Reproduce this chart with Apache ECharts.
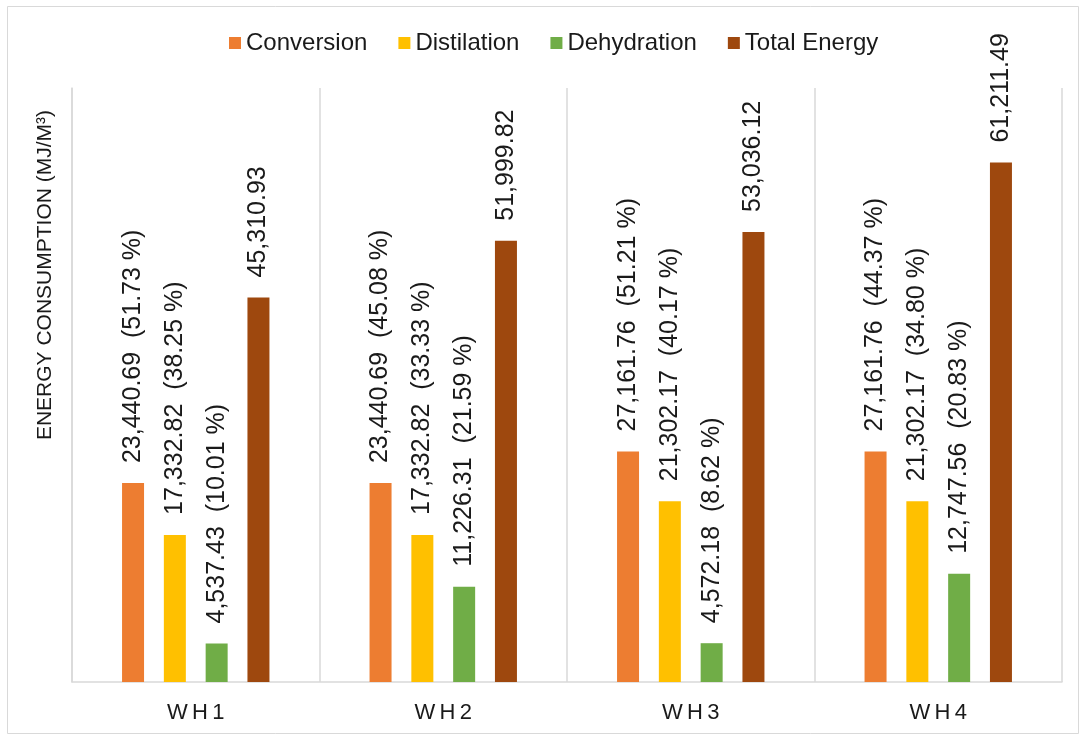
<!DOCTYPE html>
<html>
<head>
<meta charset="utf-8">
<title>Energy consumption</title>
<script src="https://cdn.jsdelivr.net/npm/echarts@6/dist/echarts.min.js"></script>
<style>
  html, body { margin: 0; padding: 0; background: #fff; }
  #chart { width: 1084px; height: 738px; }
</style>
</head>
<body>
<div id="chart"></div>
<script>
// Energy use per process step for each case (MJ/m3)
const categories = ['WH1', 'WH2', 'WH3', 'WH4'];
const conversion = [23440.69, 23440.69, 27161.76, 27161.76];
const distilation = [17332.82, 17332.82, 21302.17, 21302.17];
const dehydration = [4537.43, 11226.31, 4572.18, 12747.56];
const totalEnergy = [45310.93, 51999.82, 53036.12, 61211.49];

// Share of each step, as printed next to the value
const conversionPct = ['51.73', '45.08', '51.21', '44.37'];
const distilationPct = ['38.25', '33.33', '40.17', '34.80'];
const dehydrationPct = ['10.01', '21.59', '8.62', '20.83'];

const FONT = '"Liberation Sans", Arial, sans-serif';
const TEXT = '#1a1a1a';
const GRIDLINE = '#d9d9d9';

const fmt = v => v.toLocaleString('en-US', { minimumFractionDigits: 2, maximumFractionDigits: 2 });

function barLabel(pcts) {
  return {
    show: true,
    position: 'top',
    rotate: 90,
    align: 'left',
    verticalAlign: 'middle',
    distance: 17,
    offset: [3, 0],
    fontFamily: FONT,
    fontSize: 25,
    color: TEXT,
    formatter: p => pcts ? fmt(p.value) + '  (' + pcts[p.dataIndex] + ' %)' : fmt(p.value)
  };
}

function barSeries(name, data, color, pcts) {
  return {
    name: name,
    type: 'bar',
    data: data,
    barWidth: 22,
    barGap: '90%',
    itemStyle: { color: color },
    label: barLabel(pcts)
  };
}

const chart = echarts.init(document.getElementById('chart'), null, { renderer: 'canvas' });

chart.setOption({
  animation: false,
  backgroundColor: '#fff',
  graphic: [{
    type: 'rect',
    shape: { x: 7.5, y: 6.5, width: 1071, height: 727 },
    style: { fill: 'none', stroke: GRIDLINE, lineWidth: 1 },
    silent: true
  }],
  legend: {
    top: 26,
    left: 224,
    itemWidth: 12,
    itemHeight: 12,
    itemGap: 31,
    icon: 'rect',
    textStyle: { fontFamily: FONT, fontSize: 24, color: TEXT },
    data: ['Conversion', 'Distilation', 'Dehydration', 'Total Energy']
  },
  grid: { left: 72, right: 22, top: 88, bottom: 56, containLabel: false },
  xAxis: {
    type: 'category',
    data: categories,
    axisLine: { show: true, lineStyle: { color: GRIDLINE, width: 1.5 } },
    axisTick: { show: false },
    splitLine: { show: true, lineStyle: { color: GRIDLINE, width: 1.5 } },
    axisLabel: {
      margin: 20,
      fontFamily: FONT,
      fontSize: 22,
      color: TEXT,
      formatter: v => v.split('').join('\u2009')
    }
  },
  yAxis: {
    type: 'value',
    min: 0,
    max: 70000,
    axisLine: { show: true, lineStyle: { color: GRIDLINE, width: 1.5 } },
    axisTick: { show: false },
    axisLabel: { show: false },
    splitLine: { show: false },
    name: 'ENERGY CONSUMPTION (MJ/M³)',
    nameLocation: 'middle',
    nameRotate: 90,
    nameGap: 16,
    nameTextStyle: {
      fontFamily: FONT,
      fontSize: 21,
      color: TEXT,
      padding: [0, 0, 0, 220]
    }
  },
  series: [
    barSeries('Conversion', conversion, '#ED7D31', conversionPct),
    barSeries('Distilation', distilation, '#FFC000', distilationPct),
    barSeries('Dehydration', dehydration, '#70AD47', dehydrationPct),
    barSeries('Total Energy', totalEnergy, '#9E480E', null)
  ]
});
</script>
</body>
</html>
